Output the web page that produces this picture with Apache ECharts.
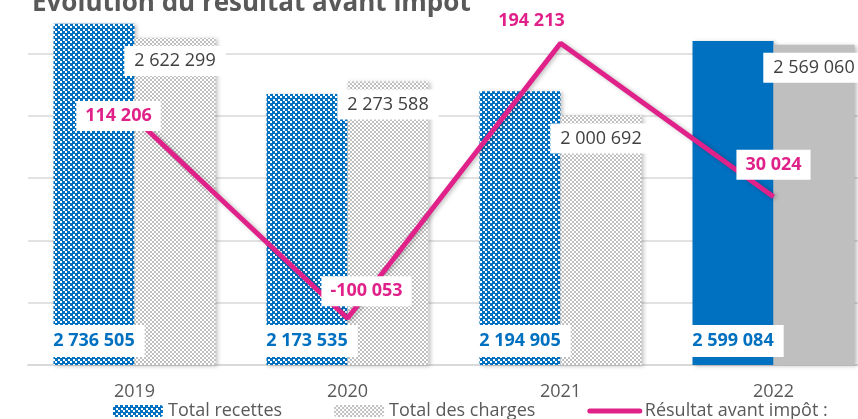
<!DOCTYPE html>
<html>
<head>
<meta charset="utf-8">
<script src="https://cdn.jsdelivr.net/npm/echarts@6/dist/echarts.min.js"></script>
<style>
  html, body { margin: 0; padding: 0; background: #fff; overflow: hidden; }
  /* le graphique d'origine est rogné en haut et à droite */
  #chart { width: 880px; height: 428px; margin-top: -9px; }
</style>
</head>
<body>
<div id="chart"></div>
<script>
// données
const annees = ['2019', '2020', '2021', '2022']
const totalRecettes = [2736505, 2173535, 2194905, 2599084]
const totalCharges = [2622299, 2273588, 2000692, 2569060]
const resultat = [114206, -100053, 194213, 30024]

const BLUE = '#0070C0'
const GREY = '#BFBFBF'
const PINK = '#E0218A'
const FONT = '"Open Sans", sans-serif'

// motif damier (comme le remplissage Excel) : tuile de `tile` px, carrés blancs de `sq` px
function damier(fg, bg, tile, sq) {
  const c = document.createElement('canvas')
  c.width = tile
  c.height = tile
  const ctx = c.getContext('2d')
  ctx.fillStyle = fg
  ctx.fillRect(0, 0, tile, tile)
  ctx.fillStyle = bg
  const h = Math.ceil(tile / 2)
  ctx.fillRect(0, 0, sq, sq)
  ctx.fillRect(h, h, sq, sq)
  return { image: c, repeat: 'repeat' }
}

const fmt = v => String(v).replace(/\B(?=(\d{3})+(?!\d))/g, ' ')

// décalages des étiquettes de la courbe
const lineLabelOffsets = [[-16, -2], [19, -27], [-29, -22], [0, -32]]

const chart = echarts.init(document.getElementById('chart'))

const shadow = {
  shadowColor: 'rgba(0,0,0,0.25)',
  shadowBlur: 4,
  shadowOffsetX: 2,
  shadowOffsetY: 1
}

const option = {
  animation: false,
  textStyle: { fontFamily: FONT },
  title: {
    text: 'Evolution du résultat avant impôt',
    left: 27,
    top: -5,
    textStyle: { fontFamily: FONT, fontSize: 26, fontWeight: 'bold', color: '#595959' }
  },
  grid: {
    left: 28,
    right: 0,
    top: 0,
    bottom: 54
  },
  legend: {
    bottom: -6,
    left: 108,
    itemWidth: 50,
    itemHeight: 12,
    itemGap: 52,
    textStyle: { fontFamily: FONT, fontSize: 18, color: '#595959' },
    data: [
      'Total recettes',
      'Total des charges',
      { name: 'Résultat avant impôt :', itemStyle: { opacity: 0 }, lineStyle: { width: 5, cap: 'round' } }
    ]
  },
  xAxis: {
    type: 'category',
    data: annees,
    axisLine: { lineStyle: { color: '#D9D9D9', width: 2 } },
    axisTick: { show: false },
    axisLabel: { margin: 18, fontSize: 18, color: '#595959', fontFamily: FONT }
  },
  yAxis: [
    {
      type: 'value',
      min: 0,
      max: 3000000,
      interval: 500000,
      axisLabel: { show: false },
      axisLine: { show: false },
      axisTick: { show: false },
      splitLine: { lineStyle: { color: '#D9D9D9', width: 1.5 } }
    },
    {
      type: 'value',
      min: -150000,
      max: 250000,
      show: false,
      splitLine: { show: false }
    }
  ],
  series: [
    {
      name: 'Total recettes',
      type: 'bar',
      barWidth: 81,
      barGap: '0%',
      itemStyle: Object.assign({ color: damier(BLUE, '#fff', 5, 2) }, shadow),
      data: totalRecettes.map((v, i) =>
        i === totalRecettes.length - 1 ? { value: v, itemStyle: { color: BLUE } } : v),
      label: {
        show: true,
        position: 'insideBottom',
        distance: 8,
        formatter: p => fmt(p.value),
        backgroundColor: '#fff',
        padding: [7, 10],
        fontFamily: FONT,
        fontSize: 18,
        fontWeight: 'bold',
        color: BLUE
      }
    },
    {
      name: 'Total des charges',
      type: 'bar',
      barWidth: 81,
      barGap: '0%',
      itemStyle: Object.assign({ color: damier(GREY, '#fff', 4, 2) }, shadow),
      data: totalCharges.map((v, i) =>
        i === totalCharges.length - 1 ? { value: v, itemStyle: { color: GREY } } : v),
      label: {
        show: true,
        position: 'insideTop',
        distance: 8,
        formatter: p => fmt(p.value),
        backgroundColor: '#fff',
        padding: [6, 10],
        fontFamily: FONT,
        fontSize: 18,
        color: '#404040'
      }
    },
    {
      name: 'Résultat avant impôt :',
      type: 'line',
      yAxisIndex: 1,
      symbol: 'circle',
      symbolSize: 1,
      showSymbol: true,
      z: 5,
      lineStyle: Object.assign({ color: PINK, width: 5 }, shadow),
      itemStyle: { color: PINK },
      data: resultat.map((v, i) => ({ value: v, label: { offset: lineLabelOffsets[i] } })),
      label: {
        show: true,
        position: 'inside',
        formatter: p => fmt(p.value),
        backgroundColor: '#fff',
        padding: [6, 9],
        fontFamily: FONT,
        fontSize: 18,
        fontWeight: 'bold',
        color: PINK
      }
    }
  ]
}

chart.setOption(option)
</script>
</body>
</html>
